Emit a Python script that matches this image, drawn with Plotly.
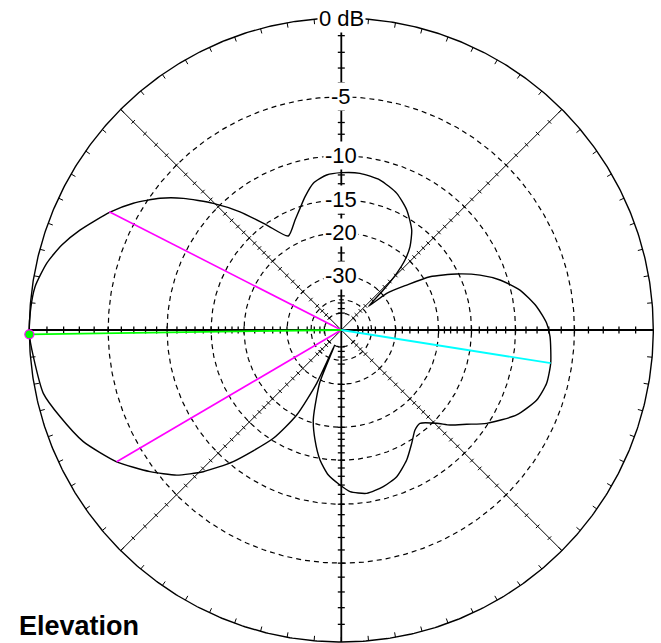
import numpy as np
import plotly.graph_objects as go

# Elevation pattern: direction (deg, counter-clockwise from +x) and gain (dB)
pattern_angle = [
    1.87, 6.8, 12.6, 17.5, 21.6, 25.9, 31.0, 34.5, 38.95, 41.0,
    43.6, 45.67, 47.7, 50.5, 54.85, 61.4, 67.9, 75.5, 83.2, 89.85,
    95.4, 100.8, 105.2, 108.75, 112.8, 119.4, 125.4, 130.6, 135.3, 140.2,
    144.0, 148.65, 153.0, 159.1, 163.1, 167.2, 171.95, 176.5, 180.8, 184.95,
    192.0, 197.1, 203.4, 210.4, 216.5, 221.4, 225.75, 230.6, 237.9, 242.3,
    245.2, 246.3, 247.6, 249.75, 252.7, 256.55, 260.7, 264.9, 269.5, 273.1,
    278.84, 285.0, 290.7, 296.7, 301.85, 306.4, 310.15, 315.64, 318.85, 323.05,
    327.3, 334.15, 340.3, 345.45, 351.0, 358.2,
]
pattern_gain = [
    -7.17, -7.91, -9.15, -10.79, -12.66, -15.25, -18.94, -23.49, -28.76, -37.0,
    -28.88, -23.51, -20.48, -18.2, -16.07, -14.16, -12.86, -12.02, -11.7, -11.75,
    -11.93, -12.64, -13.98, -15.23, -16.5, -18.22, -15.19, -11.93, -9.43, -7.15,
    -5.68, -4.25, -3.16, -1.87, -1.13, -0.56, -0.15, -0.03, 0.0, -0.16,
    -0.41, -1.0, -1.79, -3.1, -4.64, -6.04, -7.82, -10.39, -15.31, -20.23,
    -28.67, -50.0, -29.51, -25.38, -20.54, -17.42, -14.8, -13.08, -12.01, -11.26,
    -10.9, -11.23, -11.81, -13.09, -14.58, -15.81, -16.1, -14.58, -13.22, -11.8,
    -10.14, -8.08, -6.99, -6.62, -6.63, -6.89,
]

# Maximum gain direction, -3 dB beamwidth points, secondary lobe peak
peak_angle, peak_gain = 180.8, 0.0
bw_angles = [153.0, 210.4]
bw_gains = [-3.1, -3.1]
lobe_angle, lobe_gain = 351.0, -6.63

# Grid rings, their labels and the dB tick marks along the axes
ring_levels = [-5, -10, -15, -20, -30, -40, -50]
label_levels = [-5, -10, -15, -20, -30]
label_texts = ["-5", "-10", "-15", "-20", "-30"]
tick_levels = (list(range(-1, -21, -1)) + [-22, -24, -26, -28, -30]
               + [-34, -38, -42, -46, -50])
rim_tick_step = 5

R_PX = 312.0  # outer ring radius in pixels
CX_PX, CY_PX = 341.3, 330.0  # chart centre in pixels
W_PX, H_PX = 661, 643


def scale(db):
    # ARRL log-periodic scale: each 2 dB shrinks the radius by 0.89
    return 0.89 ** (-np.asarray(db, dtype=float) / 2.0)


def to_xy(angle_deg, db):
    a = np.radians(np.asarray(angle_deg, dtype=float))
    r = scale(db)
    return r * np.cos(a), r * np.sin(a)


def circle(r, n=721):
    t = np.linspace(0, 2 * np.pi, n)
    return r * np.cos(t), r * np.sin(t)


def segments(pairs):
    xs, ys = [], []
    for (x0, y0), (x1, y1) in pairs:
        xs += [x0, x1, None]
        ys += [y0, y1, None]
    return xs, ys


fig = go.Figure()

# dashed dB rings
for lv in ring_levels:
    cx, cy = circle(float(scale(lv)))
    fig.add_trace(go.Scatter(x=cx, y=cy, mode="lines", hoverinfo="skip",
                             line=dict(color="black", width=1.2, dash="5px,4px")))

# diagonal guide lines
diag = []
for a in (45, 135):
    t = np.radians(a)
    diag.append(((np.cos(t), np.sin(t)), (-np.cos(t), -np.sin(t))))
dx, dy = segments(diag)
fig.add_trace(go.Scatter(x=dx, y=dy, mode="lines", hoverinfo="skip",
                         line=dict(color="black", width=1.0)))

# main horizontal / vertical axes
ax, ay = segments([((-1, 0), (1, 0)), ((0, -1), (0, 1))])
fig.add_trace(go.Scatter(x=ax, y=ay, mode="lines", hoverinfo="skip",
                         line=dict(color="black", width=1.8)))

# dB ticks across the axes and the diagonals
main_ticks, diag_ticks = [], []
for phi in range(0, 360, 45):
    t = np.radians(phi)
    ux, uy = np.cos(t), np.sin(t)
    nx, ny = -uy, ux
    h = (3.5 if phi % 90 == 0 else 2.5) / R_PX
    for lv in tick_levels:
        r = float(scale(lv))
        seg = ((r * ux - h * nx, r * uy - h * ny), (r * ux + h * nx, r * uy + h * ny))
        (main_ticks if phi % 90 == 0 else diag_ticks).append(seg)
tx, ty = segments(main_ticks)
fig.add_trace(go.Scatter(x=tx, y=ty, mode="lines", hoverinfo="skip",
                         line=dict(color="black", width=1.3)))
tx, ty = segments(diag_ticks)
fig.add_trace(go.Scatter(x=tx, y=ty, mode="lines", hoverinfo="skip",
                         line=dict(color="black", width=1.0)))

# rim ticks every 5 degrees, pointing inward
rim = []
inner = 1 - 5 / R_PX
for a in range(0, 360, rim_tick_step):
    t = np.radians(a)
    rim.append(((np.cos(t), np.sin(t)), (inner * np.cos(t), inner * np.sin(t))))
rx, ry = segments(rim)
fig.add_trace(go.Scatter(x=rx, y=ry, mode="lines", hoverinfo="skip",
                         line=dict(color="black", width=1.0)))

# outer 0 dB ring
ox, oy = circle(1.0)
fig.add_trace(go.Scatter(x=ox, y=oy, mode="lines", hoverinfo="skip",
                         line=dict(color="black", width=1.4)))

# radiation pattern
px, py = to_xy(pattern_angle + pattern_angle[:1], pattern_gain + pattern_gain[:1])
fig.add_trace(go.Scatter(x=px, y=py, mode="lines", hoverinfo="skip",
                         line=dict(color="black", width=1.4, shape="spline",
                                   smoothing=0.6)))

# beamwidth, secondary lobe and peak direction lines
for a, g in zip(bw_angles, bw_gains):
    ex, ey = to_xy([a], [g])
    fig.add_trace(go.Scatter(x=[0, ex[0]], y=[0, ey[0]], mode="lines",
                             hoverinfo="skip",
                             line=dict(color="#ff00ff", width=1.6)))
ex, ey = to_xy([lobe_angle], [lobe_gain])
fig.add_trace(go.Scatter(x=[0, ex[0]], y=[0, ey[0]], mode="lines", hoverinfo="skip",
                         line=dict(color="#00ffff", width=1.8)))
ex, ey = to_xy([peak_angle], [peak_gain])
fig.add_trace(go.Scatter(x=[0, ex[0]], y=[0, ey[0]], mode="lines", hoverinfo="skip",
                         line=dict(color="#00ff00", width=1.8)))
fig.add_trace(go.Scatter(x=[ex[0]], y=[ey[0]], mode="markers", hoverinfo="skip",
                         marker=dict(size=9, color="#00ff00",
                                     line=dict(color="#ff00ff", width=1.2))))

font = "Liberation Sans, Arial, sans-serif"
annotations = [dict(x=0, y=1.0, xref="x", yref="y", text="0 dB", showarrow=False,
                    font=dict(family=font, size=22, color="black"),
                    bgcolor="white", borderpad=1, xanchor="center", yanchor="middle")]
for lv, txt in zip(label_levels, label_texts):
    annotations.append(dict(x=0, y=float(scale(lv)), xref="x", yref="y", text=txt,
                            showarrow=False,
                            font=dict(family=font, size=22, color="black"),
                            bgcolor="white", borderpad=1,
                            xanchor="center", yanchor="middle"))
# chart title in the lower-left corner, kept just inside the page
annotations.append(dict(x=18 / W_PX, xref="paper", y=1.5 / H_PX, yref="paper",
                        text="<b>Elevation</b>", showarrow=False,
                        font=dict(family=font, size=27, color="black"),
                        xanchor="left", yanchor="bottom", borderpad=0))

fig.update_layout(
    width=W_PX, height=H_PX, autosize=False,
    margin=dict(l=0, r=0, t=0, b=0),
    paper_bgcolor="white", plot_bgcolor="white",
    showlegend=False,
    xaxis=dict(range=[-CX_PX / R_PX, (W_PX - CX_PX) / R_PX], visible=False,
               fixedrange=True),
    yaxis=dict(range=[-(H_PX - CY_PX) / R_PX, CY_PX / R_PX], visible=False,
               fixedrange=True),
    annotations=annotations,
)

fig.write_html("out.html")
